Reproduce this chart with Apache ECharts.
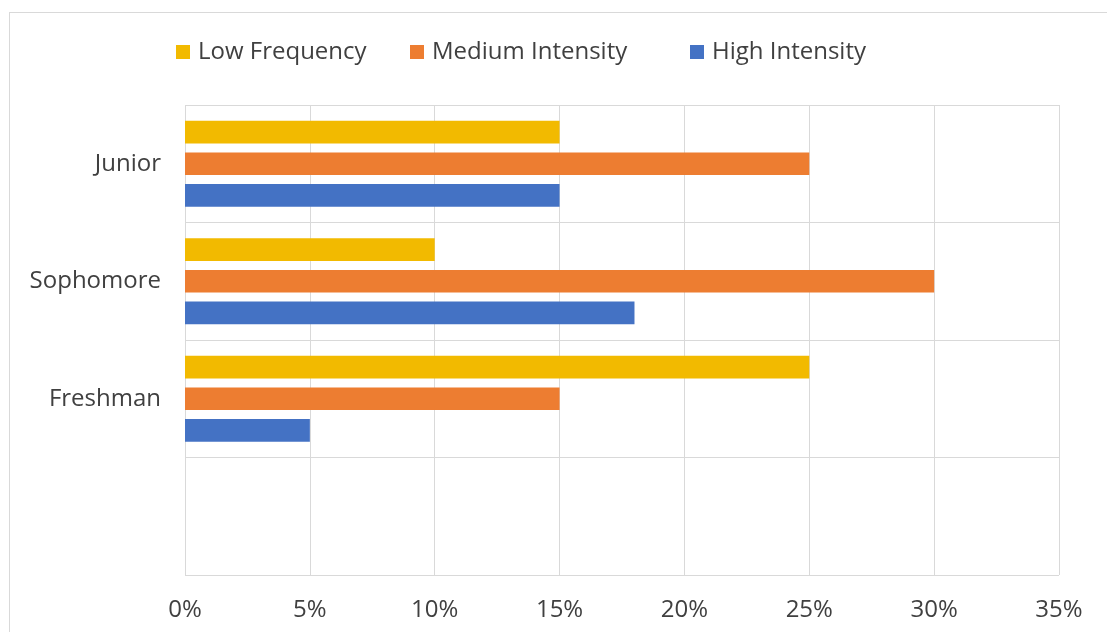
<!DOCTYPE html>
<html>
<head>
<meta charset="utf-8">
<script src="https://cdn.jsdelivr.net/npm/echarts@6/dist/echarts.min.js"></script>
<style>
  html, body { margin: 0; padding: 0; background: #ffffff; overflow: hidden; }
  #frame { position: absolute; left: 9px; top: 12px; width: 1200px; height: 700px; border: 1px solid #d9d9d9; box-sizing: border-box; }
  #chart { position: absolute; left: 0; top: 0; width: 1107px; height: 632px; }
</style>
</head>
<body>
<div id="frame"></div>
<div id="chart"></div>
<script>
// Categories (bottom to top); the bottom row is blank in the reference
const categories = ['', 'Freshman', 'Sophomore', 'Junior'];
const seriesNames = ['Low Frequency', 'Medium Intensity', 'High Intensity'];
// Values in percent
const lowFrequency = [null, 25, 10, 15];
const mediumIntensity = [null, 15, 30, 25];
const highIntensity = [null, 5, 18, 15];
// X axis ticks
const xMin = 0, xMax = 35, xStep = 5;

const colors = ['#F2BA00', '#ED7D31', '#4472C4'];
const textColor = '#404040';
const font = '"Open Sans", "Liberation Sans", sans-serif';

const chart = echarts.init(document.getElementById('chart'), null, { renderer: 'canvas' });

const legendBase = {
  top: 40,
  padding: 0,
  itemWidth: 14,
  itemHeight: 14,
  icon: 'rect',
  selectedMode: false,
  textStyle: { color: textColor, fontSize: 24, fontFamily: font, padding: [0, 0, 0, 3] }
};
const legendLefts = [176, 410, 690];

const option = {
  backgroundColor: 'transparent',
  animation: false,
  color: colors,
  legend: seriesNames.map((n, i) => Object.assign({}, legendBase, { left: legendLefts[i], data: [n] })),
  grid: { left: 185, right: 48, top: 105, bottom: 57, containLabel: false, outerBoundsMode: 'none' },
  xAxis: {
    type: 'value',
    min: xMin,
    max: xMax,
    interval: xStep,
    axisLine: { show: false },
    axisTick: { show: false },
    splitLine: { show: true, lineStyle: { color: '#d9d9d9', width: 1 } },
    axisLabel: {
      formatter: '{value}%',
      color: textColor,
      fontSize: 24,
      fontFamily: font,
      margin: 23
    }
  },
  yAxis: {
    type: 'category',
    data: categories,
    axisLine: { show: false },
    axisTick: { show: false },
    splitLine: { show: true, lineStyle: { color: '#d9d9d9', width: 1 } },
    axisLabel: {
      color: textColor,
      fontSize: 24,
      fontFamily: font,
      margin: 24
    }
  },
  series: [
    { name: seriesNames[0], type: 'bar', data: lowFrequency, barGap: '40%', barCategoryGap: '27%' },
    { name: seriesNames[1], type: 'bar', data: mediumIntensity, barGap: '40%', barCategoryGap: '27%' },
    { name: seriesNames[2], type: 'bar', data: highIntensity, barGap: '40%', barCategoryGap: '27%' }
  ]
};

chart.setOption(option);
</script>
</body>
</html>
